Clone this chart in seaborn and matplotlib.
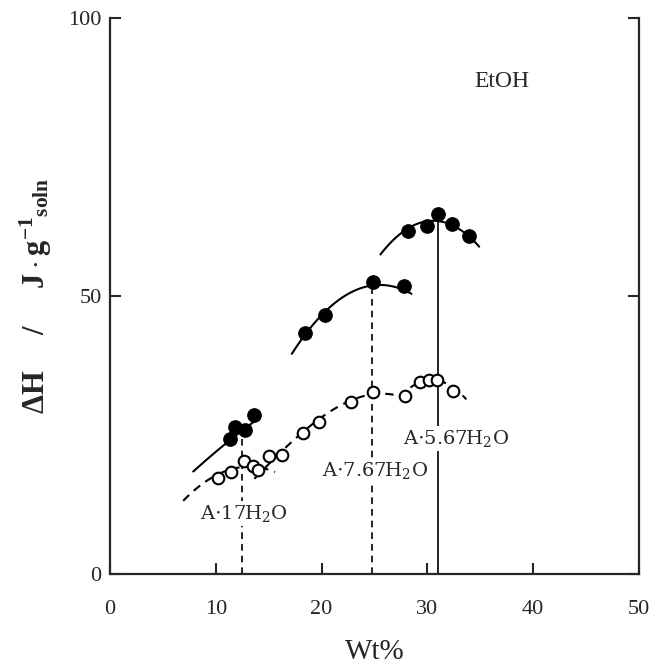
import numpy as np
import pandas as pd
import seaborn as sns
import matplotlib.pyplot as plt

# measured points (Wt%, dH in J/g soln)
filled_x = [11.35, 11.8, 12.77, 13.65, 18.45, 20.35, 24.86, 27.77,
            28.18, 29.98, 31.02, 32.35, 33.93]
filled_y = [24.2, 26.5, 25.9, 28.5, 43.4, 46.6, 52.5, 51.8,
            61.7, 62.6, 64.7, 62.9, 60.8]

open_x = [10.17, 11.44, 12.7, 13.55, 14.03, 15.04, 16.24, 18.2, 19.78, 22.8,
          24.85, 27.87, 29.26, 30.14, 30.93, 32.45]
open_y = [17.2, 18.4, 20.3, 19.4, 18.6, 21.2, 21.4, 25.4, 27.4, 30.9,
          32.8, 32.0, 34.5, 34.9, 34.9, 32.9]

# points
solid_1_x = [7.87, 10.0, 12.0, 13.9]
solid_1_y = [18.4, 22.0, 25.0, 27.8]
solid_2_x = [17.19, 18.45, 20.35, 22.6, 24.86, 26.5, 28.5]
solid_2_y = [39.8, 43.2, 46.7, 50.0, 52.3, 52.6, 49.8]
solid_3_x = [25.56, 28.18, 29.98, 31.02, 32.35, 33.93, 34.9]
solid_3_y = [57.8, 61.4, 63.2, 64.0, 63.0, 61.0, 58.4]

dashed_1_x = [6.92, 9.0, 10.17, 11.44, 12.7, 13.55, 14.03, 15.6]
dashed_1_y = [13.6, 16.0, 17.3, 18.7, 20.0, 19.7, 19.3, 17.8]
dashed_2_x = [13.65, 15.04, 16.24, 18.2, 19.78, 22.8, 24.85, 26.3, 27.87, 28.6]
dashed_2_y = [16.3, 21.0, 22.3, 25.2, 27.4, 30.8, 32.7, 32.8, 31.8, 30.6]
dashed_3_x = [28.4, 29.26, 30.14, 30.93, 32.45, 33.68]
dashed_3_y = [33.4, 34.5, 35.0, 34.9, 33.1, 31.6]

# hydrate compositions
hydrate_labels = ["A$\\cdot$17H$_2$O", "A$\\cdot$7.67H$_2$O", "A$\\cdot$5.67H$_2$O"]
hydrate_x = [12.45, 24.8, 31.05]
hydrate_top = [26.0, 52.4, 64.7]
hydrate_styles = ["--", "--", "-"]
label_x = [12.68, 25.09, 32.75]
label_y = [10.9, 18.6, 24.4]

sns.set_style("ticks")
plt.rcParams["font.family"] = ["Liberation Serif", "DejaVu Serif"]
plt.rcParams["mathtext.fontset"] = "custom"
plt.rcParams["mathtext.rm"] = "DejaVu Serif"
plt.rcParams["mathtext.bf"] = "Liberation Serif:bold"
plt.rcParams["mathtext.it"] = "DejaVu Serif:italic"

fig = plt.figure(figsize=(6.52, 6.65), dpi=100)
ax = fig.add_axes([0.1687, 0.137, 0.8113, 0.836])


def smooth(xs, ys, deg):
    c = np.polyfit(xs, ys, deg)
    xx = np.linspace(min(xs), max(xs), 80)
    return pd.DataFrame({"x": xx, "y": np.polyval(c, xx)})


curves = [
    (solid_1_x, solid_1_y, 2, "-"),
    (solid_2_x, solid_2_y, 2, "-"),
    (solid_3_x, solid_3_y, 2, "-"),
    (dashed_1_x, dashed_1_y, 2, "--"),
    (dashed_2_x, dashed_2_y, 3, "--"),
    (dashed_3_x, dashed_3_y, 2, "--"),
]
for xs, ys, deg, ls in curves:
    d = smooth(xs, ys, deg)
    line = sns.lineplot(data=d, x="x", y="y", ax=ax, color="black", lw=1.5,
                        sort=False, estimator=None)
    line.lines[-1].set_linestyle(ls)
    if ls == "--":
        line.lines[-1].set_dashes((4, 3))

# vertical composition lines
for hx, top, ls in zip(hydrate_x, hydrate_top, hydrate_styles):
    ax.plot([hx, hx], [0, top], color="black", lw=1.2, linestyle=ls,
            dashes=(4, 3) if ls == "--" else (None, None), zorder=1)

sns.scatterplot(x=filled_x, y=filled_y, ax=ax, s=95, color="black",
                edgecolor="black", linewidth=0.8, zorder=4)
sns.scatterplot(x=open_x, y=open_y, ax=ax, s=70, facecolor="white",
                edgecolor="black", linewidth=1.5, zorder=4)

for lab, lx, ly in zip(hydrate_labels, label_x, label_y):
    ax.text(lx, ly, lab, ha="center", va="center", fontsize=14, zorder=5,
            family="DejaVu Serif",
            bbox=dict(facecolor="white", edgecolor="none", pad=1.5))

ax.text(37.0, 88.5, "EtOH", ha="center", va="center", fontsize=17)

ax.set_xlim(0, 50)
ax.set_ylim(0, 100)
ax.set_xticks([0, 10, 20, 30, 40, 50])
ax.set_yticks([0, 50, 100])
ax.tick_params(direction="in", length=8, width=1.5, labelsize=16, pad=19,
               right=True, top=False)
ax.tick_params(axis="y", pad=6)
for side in ["left", "right", "bottom"]:
    ax.spines[side].set_linewidth(1.6)
ax.spines["top"].set_visible(False)

ax.set_xlabel("Wt%", fontsize=21, labelpad=14)
ax.set_ylabel(r"$\mathbf{\Delta H\quad\;/\quad\;J\,{\cdot}\,g^{-1}{}_{soln}}$",
              fontsize=22, labelpad=10)

fig.savefig("out.png", dpi=100)
